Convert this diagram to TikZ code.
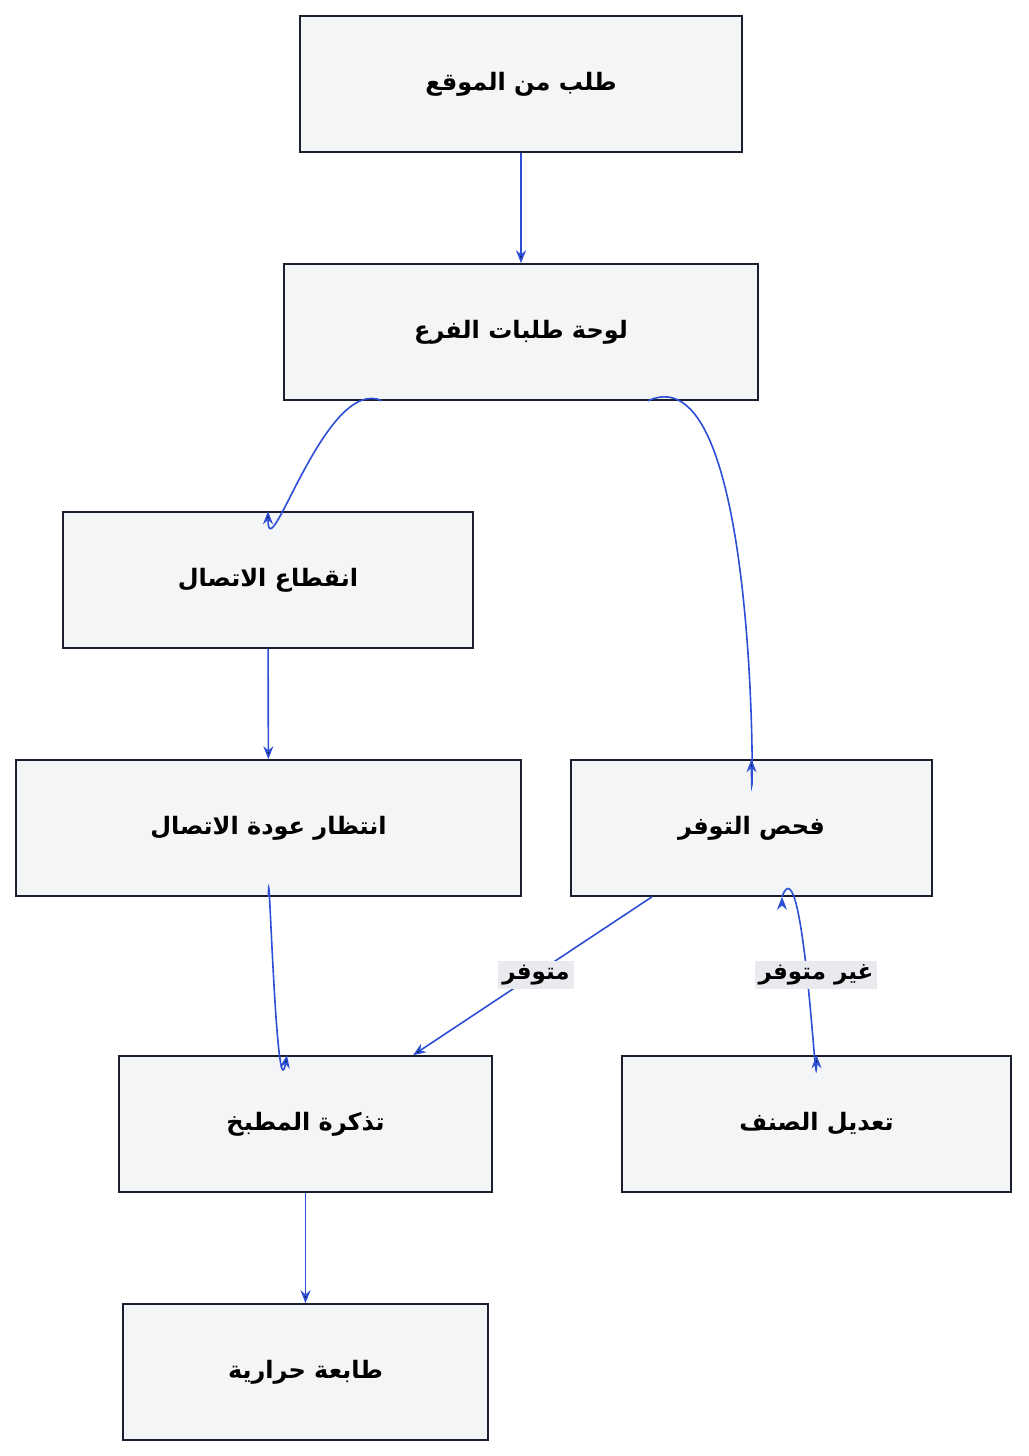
\documentclass[tikz,border=0pt]{standalone}
\usepackage{fontspec}
\newfontfamily\arfont[Script=Arabic]{DejaVu Sans}
\usetikzlibrary{arrows.meta}
\definecolor{boxfill}{HTML}{F4F5F7}
\definecolor{boxline}{HTML}{1B1E2E}
\definecolor{flow}{HTML}{2C4FD6}
\definecolor{lblfill}{HTML}{E8EAEE}
\newcommand{\ar}[1]{\arfont\beginR #1\endR}
\TeXXeTstate=1
\begin{document}
\begin{tikzpicture}[x=1pt,y=-1pt,->,>={Stealth[length=13pt,width=10pt]},line width=1.6pt]
  \tikzstyle{box}=[draw=boxline,fill=boxfill,minimum height=136pt,inner sep=0pt,font=\fontsize{24}{28}\selectfont\bfseries]
  \tikzstyle{lbl}=[fill=lblfill,inner sep=4pt,font=\fontsize{23}{28}\selectfont\bfseries]
  \useasboundingbox (0,0) rectangle (1028,1456);

  \node[box,minimum width=442pt] (site)    at (521,84)     {\ar{طلب من الموقع}};
  \node[box,minimum width=474pt] (board)   at (521,332)    {\ar{لوحة طلبات الفرع}};
  \node[box,minimum width=410pt] (offline) at (268,580)    {\ar{انقطاع الاتصال}};
  \node[box,minimum width=505pt] (wait)    at (268.5,828)  {\ar{انتظار عودة الاتصال}};
  \node[box,minimum width=361pt] (check)   at (751.5,828)  {\ar{فحص التوفر}};
  \node[box,minimum width=373pt] (ticket)  at (305.5,1124) {\ar{تذكرة المطبخ}};
  \node[box,minimum width=389pt] (modify)  at (816.5,1124) {\ar{تعديل الصنف}};
  \node[box,minimum width=365pt] (printer) at (305.5,1372) {\ar{طابعة حرارية}};

  % y axis points down, so 90 is downwards here
  \path[draw=flow] (site) edge (board)
        (board.south -| 382,0) edge[out=155,in=-90] (offline.north)
        (board.south -| 648,0) edge[out=25,in=-90,looseness=0.9] (check.north)
        (offline) edge (wait)
        (wait.south) edge[out=90,in=-100] (ticket.north -| 287,0)
        (check.south -| 652,0) edge (ticket.north -| 413,0)
        (check.south -| 782,0) edge[out=70,in=-90] (modify.north)
        (ticket) edge (printer);
  \node[lbl] (yes) at (536,975) {\ar{متوفر}};
  \node[lbl] (no)  at (816,975) {\ar{غير متوفر}};
\end{tikzpicture}
\end{document}
